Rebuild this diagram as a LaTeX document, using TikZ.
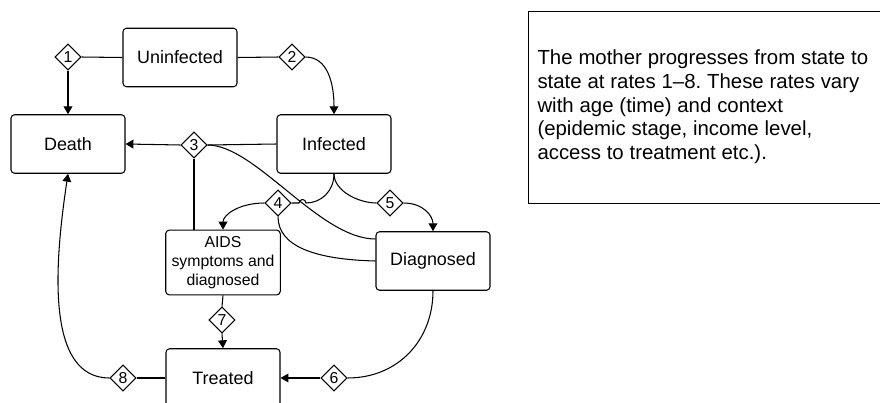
\documentclass[tikz,border=0pt]{standalone}
\usepackage{fontspec}
\setmainfont{Liberation Sans}
\usetikzlibrary{shapes.geometric,arrows.meta}

\begin{document}
\begin{tikzpicture}[
  state/.style={draw, rounded corners=2pt, minimum width=2.28cm, minimum height=1.17cm,
    align=center, font=\fontsize{10.2}{12}\selectfont},
  rate/.style={draw, diamond, aspect=1, minimum size=0.52cm, inner sep=0pt,
    fill=white, font=\fontsize{9}{9}\selectfont},
  flow/.style={-{Triangle[length=4.5pt,width=5pt]}},
  line width=0.6pt
]
  \useasboundingbox (0,0) rectangle (17.6,8.04);

  % states
  \node[state] (uninf) at (3.60, 6.89) {Uninfected};
  \node[state] (death) at (1.36, 5.16) {Death};
  \node[state] (inf)   at (6.68, 5.16) {Infected};
  \node[state, font=\fontsize{9}{11}\selectfont] (aids) at (4.46, 2.79) {AIDS\\symptoms and\\diagnosed};
  \node[state] (diag)  at (8.66, 2.82) {Diagnosed};
  \node[state] (treat) at (4.46, 0.48) {Treated};

  % rates
  \node[rate] (r1) at (1.36, 6.90) {1};
  \node[rate] (r2) at (5.84, 6.90) {2};
  \node[rate] (r3) at (3.88, 5.14) {3};
  \node[rate] (r4) at (5.56, 3.98) {4};
  \node[rate] (r5) at (7.80, 3.98) {5};
  \node[rate] (r6) at (6.68, 0.48) {6};
  \node[rate] (r7) at (4.44, 1.64) {7};
  \node[rate] (r8) at (2.46, 0.48) {8};
  \coordinate (hop) at (6.05, 3.98);

  % note
  \node[draw, anchor=north west, minimum width=7.8cm, minimum height=3.84cm] (note) at (10.56, 7.82) {};
  \node[anchor=north west, text width=7.5cm, inner sep=0pt] (notetext)
    at ([xshift=0.18cm, yshift=-0.76cm]note.north west)
    {\fontsize{11.6}{13.6}\selectfont\frenchspacing
     The mother progresses from state to\\state at rates 1--8. These rates vary\\with age (time) and context\\(epidemic stage, income level,\\access to treatment etc.).\par};

  % flows
  \draw (uninf.west) -- (r1.east);
  \draw[flow] (r1.south) -- (death.north);
  \draw (uninf.east) -- (r2.west);
  \draw[flow] (r2.east) .. controls +(0.45,0) and +(0,0.6) .. (inf.north);
  \draw (inf.west) -- (r3.east);
  \draw[flow] (r3.west) -- (death.east);
  \draw (r3.south) -- (r3.south |- aids.north);
  \draw (r3.east) .. controls +(0.96,0) and +(-1.12,0) .. ([yshift=0.44cm]diag.west);
  \draw (inf.south) .. controls +(0,-0.35) and +(0.3,0) .. ([xshift=0.07cm]hop)
    arc[start angle=0, end angle=180, radius=0.07cm] -- (r4.east);
  \draw[flow] (r4.west) .. controls +(-0.5,0) and +(0,0.3) .. (aids.north);
  \draw (inf.south) .. controls +(0,-0.35) and +(-0.35,0) .. (r5.west);
  \draw[flow] (r5.east) .. controls +(0.4,0) and +(0,0.3) .. (diag.north);
  \draw (r4.south) .. controls +(0,-0.6) and +(-1.2,0.03) .. (diag.west);
  \draw (aids.south) -- (r7.north);
  \draw[flow] (r7.south) -- (treat.north);
  \draw (diag.south) .. controls +(0,-1.0) and +(1.0,0) .. (r6.east);
  \draw[flow] (r6.west) -- (treat.east);
  \draw (treat.west) -- (r8.east);
  \draw[flow] (r8.west) .. controls +(-1.3,0) and +(-0.26,-1.74) .. (death.south);
\end{tikzpicture}
\end{document}
